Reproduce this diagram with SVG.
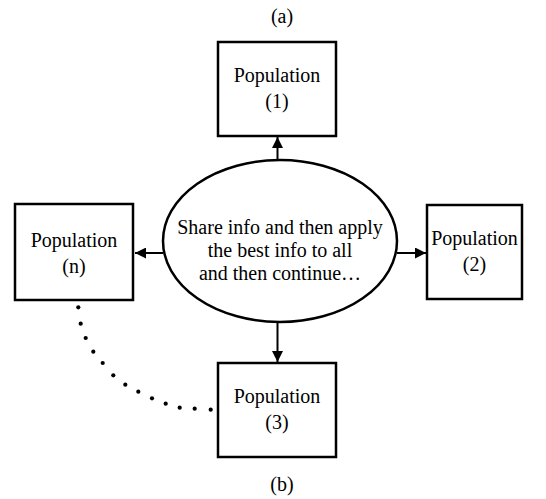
<svg xmlns="http://www.w3.org/2000/svg" width="546" height="499" viewBox="0 0 546 499">
<defs>
<style>
.box{fill:#fff;stroke:#000;stroke-width:2.5}
.conn{stroke:#000;stroke-width:2;fill:none}
</style>
<marker id="ah" viewBox="0 0 10 10" refX="10" refY="5" markerWidth="11" markerHeight="11" markerUnits="userSpaceOnUse" orient="auto">
<path d="M0,0 L10,5 L0,10 z" fill="#000"/>
</marker>
</defs>
<rect width="546" height="499" fill="#fff"/>
<g font-family="'Liberation Serif', 'Times New Roman', serif" font-size="20" text-anchor="middle" fill="#000">
<text x="282" y="23">(a)</text>
<text x="282" y="491">(b)</text>
<g id="connectors">
<line class="conn" x1="277.5" y1="160" x2="277.5" y2="137" marker-end="url(#ah)"/>
<line class="conn" x1="163" y1="253" x2="135" y2="253" marker-end="url(#ah)"/>
<line class="conn" x1="397" y1="253" x2="426" y2="253" marker-end="url(#ah)"/>
<line class="conn" x1="277.5" y1="322" x2="277.5" y2="362" marker-end="url(#ah)"/>
<g fill="#000">
<circle cx="78.3" cy="307.3" r="2.1"/>
<circle cx="80.7" cy="323.7" r="2.1"/>
<circle cx="85.7" cy="338" r="2.1"/>
<circle cx="93.3" cy="351.7" r="2.1"/>
<circle cx="102.7" cy="363" r="2.1"/>
<circle cx="113.3" cy="375.3" r="2.1"/>
<circle cx="125.3" cy="384.7" r="2.1"/>
<circle cx="138.3" cy="391.7" r="2.1"/>
<circle cx="152" cy="398.3" r="2.1"/>
<circle cx="165.7" cy="403.7" r="2.1"/>
<circle cx="179.7" cy="407.7" r="2.1"/>
<circle cx="194.7" cy="408.7" r="2.1"/>
<circle cx="210.7" cy="409.7" r="2.1"/>
</g>
</g>
<g id="hub">
<ellipse cx="280" cy="241" rx="117" ry="81" class="box"/>
<text x="280" y="234">Share info and then apply</text>
<text x="280" y="257">the best info to all</text>
<text x="280" y="280">and then continue…</text>
</g>
<g id="pop1">
<rect x="218" y="42" width="118" height="94" class="box"/>
<text x="277" y="82">Population</text>
<text x="277" y="108">(1)</text>
</g>
<g id="pop2">
<rect x="427" y="205" width="95" height="94" class="box"/>
<text x="474.5" y="245">Population</text>
<text x="474.5" y="271">(2)</text>
</g>
<g id="pop3">
<rect x="218" y="363" width="118" height="94" class="box"/>
<text x="277" y="403">Population</text>
<text x="277" y="429">(3)</text>
</g>
<g id="popn">
<rect x="15" y="204" width="118" height="96" class="box"/>
<text x="74" y="247">Population</text>
<text x="74" y="273">(n)</text>
</g>
</g>
</svg>
